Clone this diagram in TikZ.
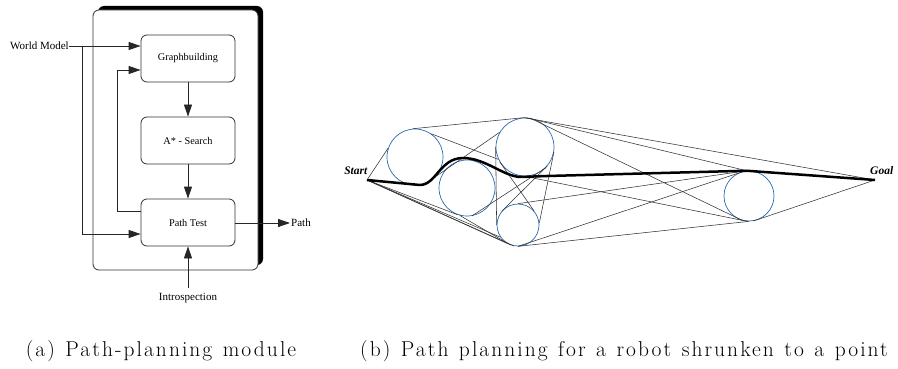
\documentclass[tikz,border=0pt]{standalone}
\usepackage{fontspec}
\newfontfamily\tms{Liberation Serif}
\newfontfamily\capfont[LetterSpace=9.5]{Latin Modern Roman}
\usetikzlibrary{arrows.meta}
\definecolor{obstblue}{RGB}{40,105,175}
\newcommand\widewords{\spaceskip=10.5pt\relax}
\tikzset{
  blk/.style={draw=black!80, line width=0.8pt, rounded corners=6pt, minimum width=94pt, minimum height=47pt, font=\tms\fontsize{10.3}{12}\selectfont},
  lbl/.style={font=\tms\fontsize{11}{13}\selectfont, inner sep=0pt},
  conn/.style={draw=black!85, line width=0.8pt, -{Triangle[length=12pt,width=8pt]}},
  wire/.style={draw=black!85, line width=0.8pt},
  obst/.style={circle, draw=obstblue, line width=0.7pt, inner sep=0pt},
  vis/.style={draw=black!80, line width=0.55pt},
  best/.style={draw=black, line width=2.5pt, line join=round},
  captext/.style={font=\capfont\fontsize{21.5}{24}\selectfont, inner sep=0pt},
  tag/.style={font=\tms\bfseries\itshape\fontsize{11.5}{13}\selectfont, inner sep=0pt}
}
\begin{document}
\begin{tikzpicture}[x=1pt,y=-1pt]
\useasboundingbox (0,0) rectangle (898,369);
% ---------- (a) ----------
\fill[black, rounded corners=6pt] (98,6) rectangle (263,265);
\draw[black!80, fill=white, line width=0.8pt, rounded corners=6pt] (93,10) rectangle (258,270);
\node[blk] (gb) at (188,58.5) {Graphbuilding};
\node[blk] (as) at (188,140.5) {A* - Search};
\node[blk] (pt) at (188,222.5) {Path Test};
\node[lbl, anchor=east] (wm) at (69,46) {World Model};
\node[lbl, anchor=west] (path) at (291,223) {Path};
\node[lbl] (intro) at (188,298) {Introspection};
\coordinate (j1) at (82,46);
\coordinate (j2) at (82,234);
\coordinate (f1) at (117,211);
\coordinate (f2) at (117,70);
\coordinate (pe) at (290,223);
\coordinate (ib) at (188,288);
\draw[conn] (wm.east) -- (gb.west |- wm.east);
\draw[conn] (j1) -- (j2) -- (pt.west |- j2);
\draw[wire] (pt.west |- f1) -- (f1) -- (f2);
\draw[conn] (f2) -- (gb.west |- f2);
\draw[conn] (gb.south) -- (as.north);
\draw[conn] (as.south) -- (pt.north);
\draw[conn] (pt.east |- pe) -- (pe);
\draw[conn] (ib) -- (pt.south);
% ---------- (b) ----------
\node[obst, minimum size=56pt] (c1) at (415,157) {};
\node[obst, minimum size=56pt] (c2) at (467,188) {};
\node[obst, minimum size=58pt] (c3) at (525,147) {};
\node[obst, minimum size=42pt] (c4) at (518,225) {};
\node[obst, minimum size=50pt] (c5) at (749,196) {};
\coordinate (S) at (367,180);
\coordinate (G) at (875,180);
\node[tag, anchor=east] (st) at (367.5,171) {Start};
\node[tag, anchor=west] (gl) at (870,171) {Goal};
% visibility edges
\draw[vis] (S) -- (c1.162);
\draw[vis] (c1.95) -- (c3.92);
\draw[vis] (S) -- (c2.250);
\draw[vis] (S) -- (c4.215);
\draw[vis] (S) -- (c4.240);
\draw[vis] (S) -- (c4.258);
\draw[vis] (c2.255) -- (c4.250);
\draw[vis] (c1.55) -- (c3.205);
\draw[vis] (c1.-45) -- (c3.150);
\draw[vis] (c2.280) -- (c3.-45);
\draw[vis] (c3.180) -- (c4.180);
\draw[vis] (c3.-10) -- (c4.5);
\draw[vis] (c3.210) -- (c4.40);
\draw[vis] (c3.-40) -- (c4.140);
\draw[vis] (c3.92) -- (G);
\draw[vis] (c3.88) -- (c5.95);
\draw[vis] (c3.80) -- (c5.255);
\draw[vis] (c3.270) -- (c5.265);
\draw[vis] (c4.90) -- (c5.95);
\draw[vis] (c4.270) -- (c5.100);
\draw[vis] (c4.270) -- (c5.270);
\draw[vis] (c5.280) -- (G);
% shortest path
\draw[best] (S) -- (420,185) .. controls (436,185) and (440,158) .. (463,158)
  .. controls (485,158) and (503,176) .. (520,177) -- (547,176) -- (c5.95) -- (G);
% captions
\node[captext] (capa) at (161,351) {\widewords (a) Path-planning module};
\node[captext] (capb) at (624,351) {\widewords (b) Path planning for a robot shrunken to a point};
\end{tikzpicture}
\end{document}
